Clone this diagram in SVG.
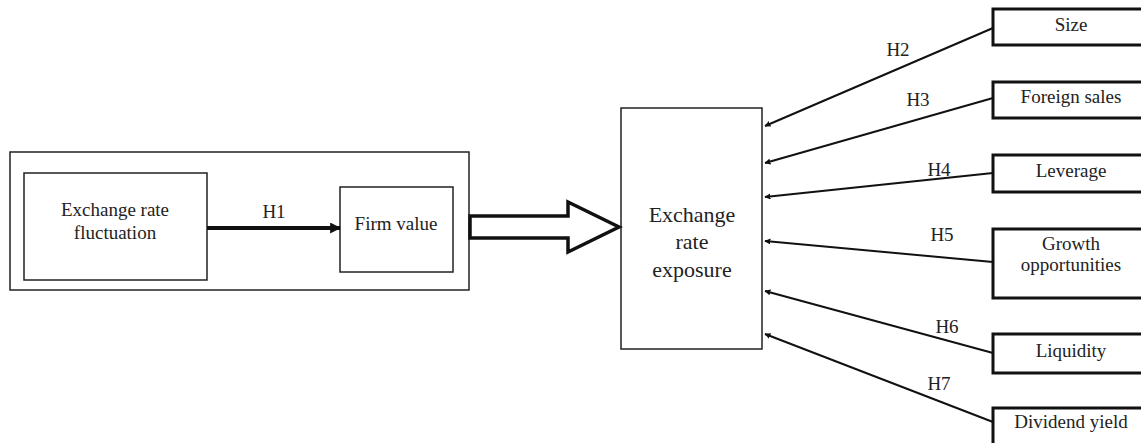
<svg xmlns="http://www.w3.org/2000/svg" width="1141" height="443" viewBox="0 0 1141 443">
<style>
text{font-family:"Liberation Serif","Times New Roman","DejaVu Serif",serif;font-size:19px;fill:#222;text-anchor:middle}
.thin{fill:#fff;stroke:#222;stroke-width:1.5}
.thick{fill:#fff;stroke:#111;stroke-width:3}
.con{stroke:#111;stroke-width:2;fill:none}
</style>
<defs>
<marker id="ah" viewBox="0 0 10 10" refX="9" refY="5" markerWidth="6" markerHeight="6" orient="auto" markerUnits="userSpaceOnUse">
<path d="M0,0 L10,5 L0,10 Z" fill="#111"/>
</marker>
<marker id="ah1" viewBox="0 0 10 10" refX="9" refY="5" markerWidth="11" markerHeight="11" orient="auto" markerUnits="userSpaceOnUse">
<path d="M0,0 L10,5 L0,10 Z" fill="#111"/>
</marker>
</defs>
<g id="outer"><rect class="thin" x="10" y="152" width="459" height="138"/></g>
<g id="fluct"><rect class="thin" x="24" y="173" width="183" height="107"/><text x="115" y="216">Exchange rate</text><text x="115" y="239">fluctuation</text></g>
<g id="firm"><rect class="thin" x="340" y="187" width="113" height="85"/><text x="396" y="230">Firm value</text></g>
<g id="exposure"><rect class="thin" x="621" y="108" width="141" height="241"/><text x="692" y="222" style="font-size:22px">Exchange</text><text x="692" y="249" style="font-size:22px">rate</text><text x="692" y="277" style="font-size:22px">exposure</text></g>
<g id="size"><rect class="thick" x="993" y="9" width="160" height="36"/><text x="1071" y="31">Size</text></g>
<g id="foreign"><rect class="thick" x="993" y="82" width="160" height="36"/><text x="1071" y="103">Foreign sales</text></g>
<g id="leverage"><rect class="thick" x="993" y="155" width="160" height="37"/><text x="1071" y="177">Leverage</text></g>
<g id="growth"><rect class="thick" x="993" y="229" width="160" height="69"/><text x="1071" y="250">Growth</text><text x="1071" y="271">opportunities</text></g>
<g id="liquidity"><rect class="thick" x="993" y="334" width="160" height="39"/><text x="1071" y="357">Liquidity</text></g>
<g id="dividend"><rect class="thick" x="993" y="408" width="160" height="40"/><text x="1071" y="428">Dividend yield</text></g>
<g id="connectors">
<line x1="207" y1="228" x2="340" y2="228" stroke="#111" stroke-width="4" marker-end="url(#ah1)"/>
<text x="274" y="218">H1</text>
<path d="M470,216 L568,216 L568,202 L619,227 L568,252 L568,238 L470,238 Z" fill="#fff" stroke="#111" stroke-width="3.5" stroke-linejoin="miter"/>
<line class="con" x1="993" y1="28" x2="765" y2="126" marker-end="url(#ah)"/>
<line class="con" x1="993" y1="98" x2="765" y2="163" marker-end="url(#ah)"/>
<line class="con" x1="993" y1="173" x2="765" y2="197" marker-end="url(#ah)"/>
<line class="con" x1="993" y1="262" x2="765" y2="241" marker-end="url(#ah)"/>
<line class="con" x1="993" y1="353" x2="765" y2="291" marker-end="url(#ah)"/>
<line class="con" x1="993" y1="422" x2="765" y2="334" marker-end="url(#ah)"/>
<text x="898" y="56">H2</text>
<text x="918" y="106">H3</text>
<text x="939" y="176">H4</text>
<text x="942" y="241">H5</text>
<text x="947" y="333">H6</text>
<text x="939" y="390">H7</text>
</g>
</svg>
